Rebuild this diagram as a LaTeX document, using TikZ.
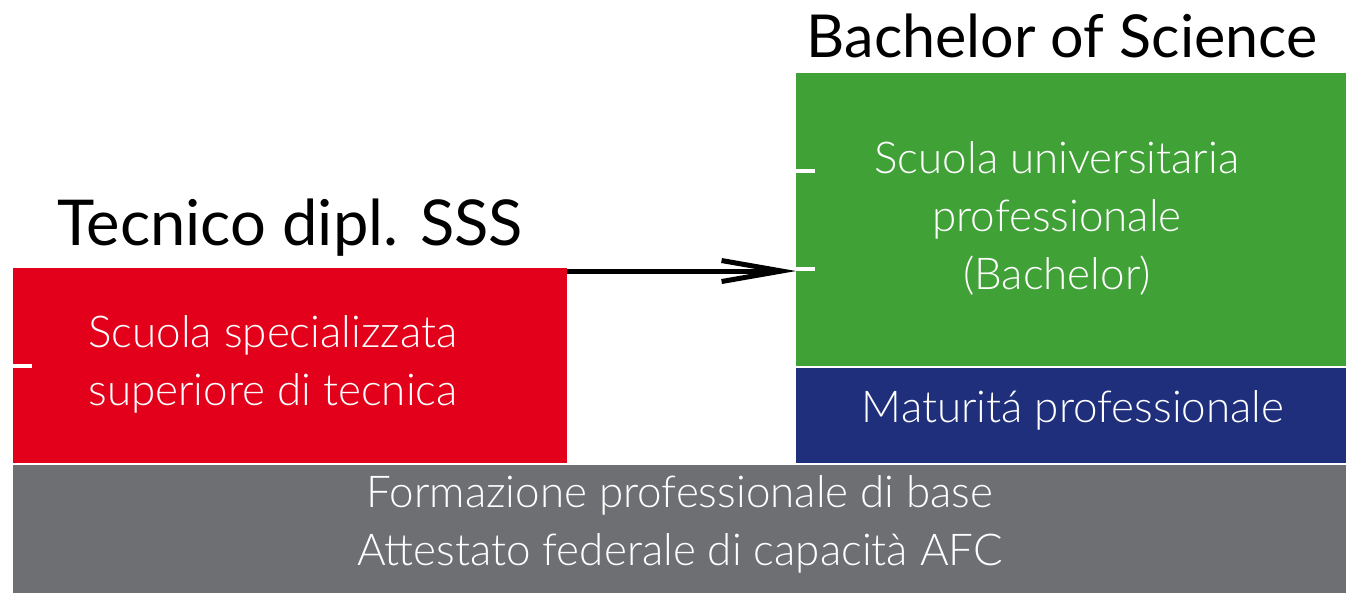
\documentclass[tikz,border=0pt]{standalone}
\usepackage{fontspec}
\setmainfont{Lato}
\newfontfamily\lightfont{Lato}[UprightFont={* Light}]
\usetikzlibrary{arrows.meta}

\definecolor{sssred}{HTML}{E2001A}
\definecolor{supgreen}{HTML}{40A137}
\definecolor{matblue}{HTML}{1F2F7C}
\definecolor{basegray}{HTML}{6E6F73}

\tikzset{
  block/.style={rectangle, inner sep=0pt, outer sep=0pt},
  boxtext/.style={text=white, align=center, font=\lightfont\fontsize{25}{33}\selectfont},
  title/.style={anchor=base, font=\fontsize{36}{40}\selectfont},
  tick/.style={white, line width=0.08cm},
  flow/.style={line width=0.1cm, -{Straight Barb[length=1.2cm, width=0.42cm, line width=0.1cm]}}
}

\begin{document}
\begin{tikzpicture}[x=0.02cm, y=-0.02cm]
\useasboundingbox (0,0) rectangle (1346,593);

% blocks
\node[block, fill=basegray, minimum width=26.66cm, minimum height=2.56cm] (base) at (679.5,529) {};
\node[block, fill=sssred, minimum width=11.08cm, minimum height=3.9cm] (sss) at (290,365.5) {};
\node[block, fill=supgreen, minimum width=11cm, minimum height=5.86cm] (sup) at (1071,219.5) {};
\node[block, fill=matblue, minimum width=11cm, minimum height=1.9cm] (mat) at (1071,415.5) {};

% texts
\node[boxtext] (basetxt) at (680,524) {Formazione professionale di base\\Attestato federale di capacità AFC};
\node[boxtext] (ssstxt) at (273,364) {Scuola specializzata\\superiore di tecnica};
\node[boxtext] (suptxt) at (1057,218) {Scuola universitaria\\professionale\\(Bachelor)};
\node[boxtext] (mattxt) at (1073,410) {Maturitá professionale};
\node[title] (ssstitle) at (290,245) {Tecnico dipl. SSS};
\node[title, font=\fontsize{33.7}{38}\selectfont] (suptitle) at (1062,57) {Bachelor of Science};

% ticks
\draw[tick] (sss.west) -- ++(19,0);
\draw[tick] (796,171) -- ++(19,0);
\draw[tick] (796,269) -- ++(19,0);

\draw[flow] ([yshift=-0.06cm]sss.north east) -- ([yshift=-0.06cm]sss.north east -| sup.west);
\end{tikzpicture}
\end{document}
